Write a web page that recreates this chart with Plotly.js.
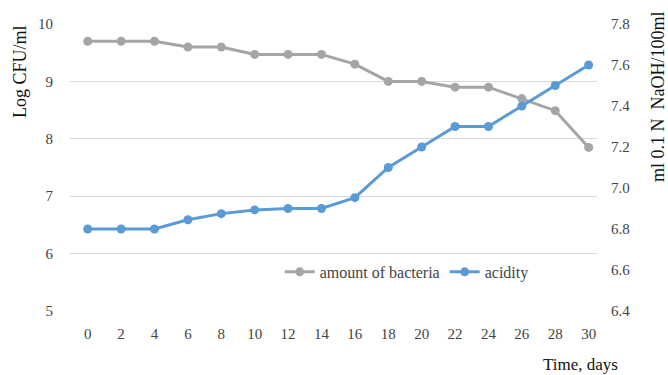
<!DOCTYPE html>
<html>
<head>
<meta charset="utf-8">
<script src="https://cdn.plot.ly/plotly-3.0.1.min.js"></script>
<style>
  html, body { margin: 0; padding: 0; background: #fff; }
  #chart { width: 668px; height: 375px; }
</style>
</head>
<body>
<div id="chart"></div>
<script>
// Storage time in days
const days = [0, 2, 4, 6, 8, 10, 12, 14, 16, 18, 20, 22, 24, 26, 28, 30];
// Bacterial count, log CFU/ml (left axis)
const bacteria = [9.7, 9.7, 9.7, 9.6, 9.6, 9.47, 9.47, 9.47, 9.3, 9.0, 9.0, 8.9, 8.9, 8.7, 8.49, 7.85];
// Titratable acidity, ml 0.1 N NaOH/100ml (right axis)
const acidity = [6.8, 6.8, 6.8, 6.845, 6.875, 6.893, 6.9, 6.9, 6.953, 7.1, 7.2, 7.3, 7.3, 7.4, 7.5, 7.6];

const leftTicks = [5, 6, 7, 8, 9, 10];
const rightTicks = [6.4, 6.6, 6.8, 7.0, 7.2, 7.4, 7.6, 7.8];

const serif = 'Liberation Serif';
const gray = '#a5a5a5';
const blue = '#5b9bd5';

const traces = [
  {
    x: days, y: bacteria, name: 'amount of bacteria', type: 'scatter', mode: 'lines+markers',
    line: { color: gray, width: 3 }, marker: { color: gray, size: 9 }, yaxis: 'y'
  },
  {
    x: days, y: acidity, name: 'acidity', type: 'scatter', mode: 'lines+markers',
    line: { color: blue, width: 3 }, marker: { color: blue, size: 9 }, yaxis: 'y2'
  }
];

const layout = {
  width: 668, height: 375,
  margin: { l: 70, r: 71, t: 24, b: 64 },
  font: { family: serif, size: 15 },
  showlegend: true,
  legend: {
    orientation: 'h', x: 0.398, y: 0.136, xanchor: 'left', yanchor: 'middle',
    font: { size: 16 }
  },
  xaxis: {
    range: [-1.06, 30.5], tickmode: 'array', tickvals: days, ticktext: days.map(String),
    showgrid: false, zeroline: false, showline: false,
    ticks: 'outside', ticklen: 9, tickcolor: 'rgba(0,0,0,0)'
  },
  yaxis: {
    range: [5, 10], tickmode: 'array', tickvals: leftTicks, ticktext: leftTicks.map(String),
    showgrid: true, gridcolor: '#d9d9d9', gridwidth: 1, zeroline: false, showline: false,
    ticks: 'outside', ticklen: 13, tickcolor: 'rgba(0,0,0,0)'
  },
  yaxis2: {
    range: [6.4, 7.8], overlaying: 'y', side: 'right',
    tickmode: 'array', tickvals: rightTicks, ticktext: rightTicks.map(v => v.toFixed(1)),
    showgrid: false, zeroline: false, showline: false,
    ticks: 'outside', ticklen: 10, tickcolor: 'rgba(0,0,0,0)'
  },
  annotations: [
    {
      text: 'Log CFU/ml', xref: 'paper', yref: 'paper', x: (20 - 70) / 527, y: (311 - 72) / 287,
      xanchor: 'center', yanchor: 'middle', textangle: -90, showarrow: false,
      font: { size: 18, color: '#111' }
    },
    {
      text: 'ml 0.1 N  NaOH/100ml', xref: 'paper', yref: 'paper', x: (658 - 70) / 527, y: (311 - 97) / 287,
      xanchor: 'center', yanchor: 'middle', textangle: -90, showarrow: false,
      font: { size: 18, color: '#111' }
    },
    {
      text: 'Time, days', xref: 'paper', yref: 'paper', x: (580 - 70) / 527, y: (311 - 364) / 287,
      xanchor: 'center', yanchor: 'middle', showarrow: false,
      font: { size: 17, color: '#111' }
    }
  ]
};

Plotly.newPlot('chart', traces, layout, { displayModeBar: false, staticPlot: true });
</script>
</body>
</html>
